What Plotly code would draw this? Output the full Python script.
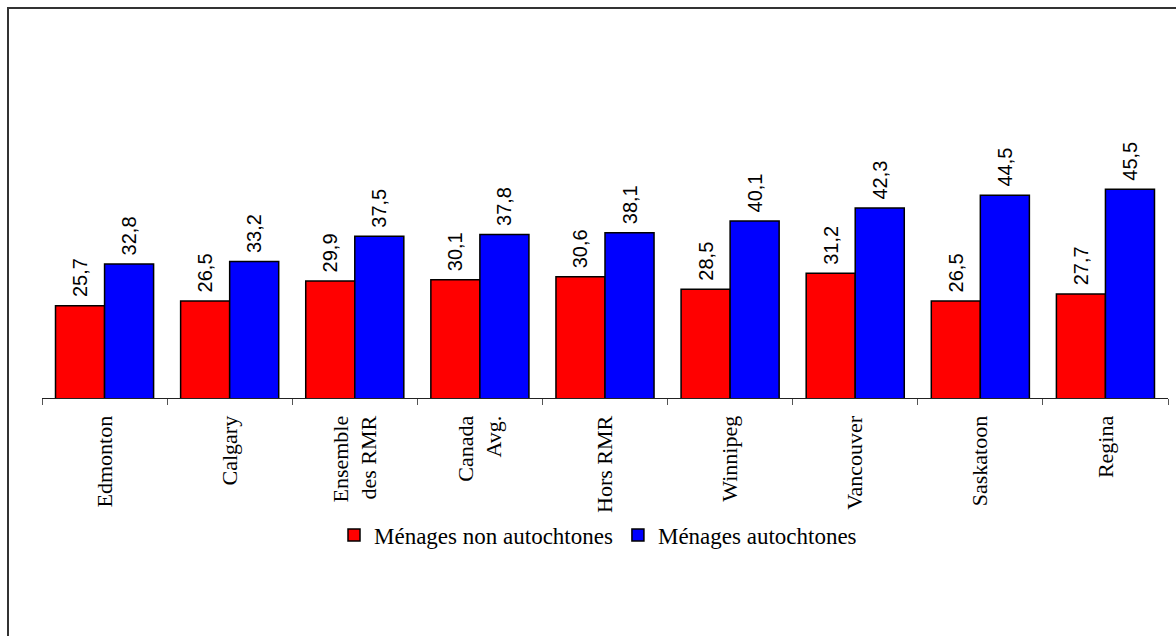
import plotly.graph_objects as go

# Share of income spent on shelter, by city and household type
categories = ["Edmonton", "Calgary", "Ensemble<br>des RMR", "Canada<br>Avg.",
              "Hors RMR", "Winnipeg", "Vancouver", "Saskatoon", "Regina"]
non_autochtones = [25.7, 26.5, 29.9, 30.1, 30.6, 28.5, 31.2, 26.5, 27.7]
autochtones = [32.8, 33.2, 37.5, 37.8, 38.1, 40.1, 42.3, 44.5, 45.5]
series_names = ["Ménages non autochtones", "Ménages autochtones"]

W, H = 1176, 636
M_L, M_R, M_T, M_B = 42, 8, 104, 238


def fr(v):
    # French decimal comma; leading no-break space lifts the label off the bar
    return "\u00a0" + f"{v:.1f}".replace(".", ",")


fig = go.Figure()
for name, vals, color in [(series_names[0], non_autochtones, "#FF0000"),
                          (series_names[1], autochtones, "#0000FF")]:
    fig.add_trace(go.Bar(
        x=categories, y=vals, name=name,
        marker=dict(color=color, line=dict(color="black", width=1.5)),
        text=[fr(v) for v in vals],
        textposition="outside", textangle=-90,
        textfont=dict(family="Liberation Sans, Arial, sans-serif", size=20, color="black"),
    ))

# outer frame around the chart
pw, ph = W - M_L - M_R, H - M_T - M_B
fig.add_shape(type="rect", xref="paper", yref="paper",
              x0=(8 - M_L) / pw, x1=(W + 20 - M_L) / pw,
              y0=-(H + 20 - (H - M_B)) / ph, y1=1 + (M_T - 8) / ph,
              line=dict(color="#333333", width=2), fillcolor="rgba(0,0,0,0)")

fig.update_layout(
    width=W, height=H,
    margin=dict(l=M_L, r=M_R, t=M_T, b=M_B),
    paper_bgcolor="white", plot_bgcolor="white",
    barmode="group", bargap=0.216, bargroupgap=0,
    showlegend=True,
    legend=dict(orientation="h", x=(598 - M_L) / pw, xanchor="center",
                y=-(535 - (H - M_B)) / ph, yanchor="middle",
                font=dict(family="Liberation Serif, Times New Roman, serif", size=23, color="black"),
                itemwidth=30, tracegroupgap=0, bgcolor="rgba(0,0,0,0)"),
    font=dict(family="Liberation Serif, Times New Roman, serif", color="black"),
)
fig.update_xaxes(
    showline=True, linecolor="#222222", linewidth=1,
    ticks="outside", tickson="boundaries", ticklen=6, tickcolor="#555555",
    ticklabelstandoff=8,
    tickangle=-90, tickfont=dict(family="Liberation Serif, Times New Roman, serif", size=22, color="black"),
    showgrid=False, fixedrange=True,
)
fig.update_yaxes(range=[10, 60], visible=False, showgrid=False, zeroline=False)

fig.write_html("out.html")
